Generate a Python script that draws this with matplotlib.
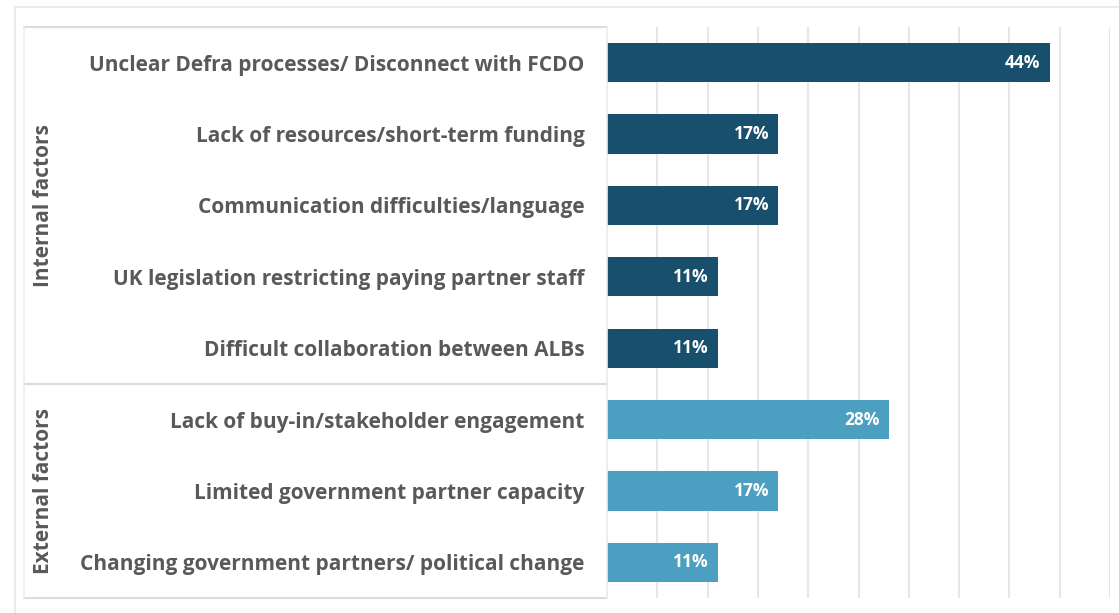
import matplotlib.pyplot as plt
from matplotlib.lines import Line2D
from matplotlib.transforms import blended_transform_factory

categories = [
    "Unclear Defra processes/ Disconnect with FCDO",
    "Lack of resources/short-term funding",
    "Communication difficulties/language",
    "UK legislation restricting paying partner staff",
    "Difficult collaboration between ALBs",
    "Lack of buy-in/stakeholder engagement",
    "Limited government partner capacity",
    "Changing government partners/ political change",
]
values = [44, 17, 17, 11, 11, 28, 17, 11]
groups = ["Internal factors"] * 5 + ["External factors"] * 3

group_colors = {"Internal factors": "#174f6d", "External factors": "#4d9fc1"}
text_color = "#595959"
line_color = "#dcdcdc"

plt.rcParams['font.family'] = ['Open Sans', 'DejaVu Sans']

W, H = 1119, 613
fig = plt.figure(figsize=(W / 100, H / 100), dpi=100)
ax = fig.add_axes([607 / W, 1 - 598 / H, (1110 - 607) / W, (598 - 27) / H])

ypos = list(range(len(categories)))
colors = [group_colors[g] for g in groups]
bars = ax.barh(ypos, values, height=0.55, color=colors, zorder=3)

for b, v in zip(bars, values):
    ax.text(b.get_width() - 0.9, b.get_y() + b.get_height() / 2, f"{v}%",
            ha="right", va="center", color="white", fontsize=12.5,
            fontweight="bold", zorder=4)

ax.set_xlim(0, 50)
ax.set_ylim(len(categories) - 0.5, -0.5)
ax.set_xticks(range(0, 51, 5))
ax.set_xticklabels([])
ax.set_yticks(ypos)
ax.set_yticklabels(categories, fontsize=15, fontweight="bold", color=text_color)
ax.tick_params(axis="both", length=0)
ax.tick_params(axis="y", pad=16)
ax.grid(axis="x", color="#e6e6e6", linewidth=1.5, zorder=0)
for s in ax.spines.values():
    s.set_visible(False)

# group box on the category side
trans = blended_transform_factory(fig.transFigure, ax.transData)
x0, x1 = 24 / W, 607 / W
for y in [-0.5, 4.5, len(categories) - 0.5]:
    fig.add_artist(Line2D([x0, x1], [y, y], transform=trans, color=line_color, lw=1.5))
fig.add_artist(Line2D([x0, x0], [-0.5, len(categories) - 0.5], transform=trans,
                      color="#eeeeee", lw=1.2))
fig.add_artist(Line2D([x1, x1], [-0.5, len(categories) - 0.5], transform=trans,
                      color="#eeeeee", lw=1.2))

# group labels
for name in ["Internal factors", "External factors"]:
    idx = [i for i, g in enumerate(groups) if g == name]
    yc = (idx[0] + idx[-1]) / 2
    ax.text(44 / W, yc, name, transform=trans, rotation=90, ha="center",
            va="center", fontsize=15, fontweight="bold", color=text_color)

# outer frame
fig.add_artist(Line2D([15 / W, 1], [1 - 7 / H, 1 - 7 / H], color="#e8e8e8", lw=1.2))
fig.add_artist(Line2D([15 / W, 15 / W], [0, 1 - 7 / H], color="#e8e8e8", lw=1.2))

fig.savefig("out.png", dpi=100)
